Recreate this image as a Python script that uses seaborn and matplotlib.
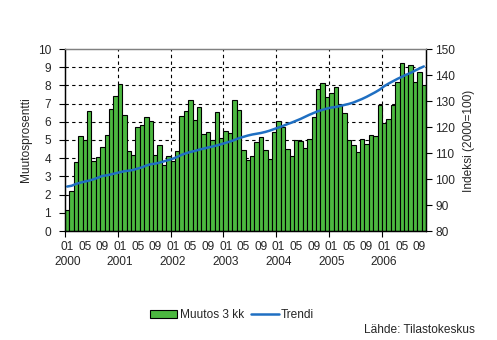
import numpy as np
import pandas as pd
import matplotlib
matplotlib.use("Agg")
import matplotlib.pyplot as plt
import seaborn as sns
from matplotlib.patches import Patch
from matplotlib.lines import Line2D
from matplotlib.transforms import blended_transform_factory

# Monthly series, January 2000 - October 2006
years = [2000, 2001, 2002, 2003, 2004, 2005, 2006]
month_labels = ["01", "05", "09"]

muutos_3kk = [
    1.15, 2.2, 3.8, 5.2, 5.0, 6.6, 3.85, 4.05, 4.6, 5.3, 6.7, 7.4,
    8.07, 6.35, 4.4, 4.17, 5.7, 5.82, 6.26, 6.04, 4.17, 4.72, 3.61, 4.11,
    3.83, 4.39, 6.31, 6.61, 7.19, 6.09, 6.81, 5.32, 5.43, 5.0, 6.55, 5.10,
    5.49, 5.38, 7.19, 6.64, 4.46, 3.91, 4.11, 4.88, 5.16, 4.46, 3.98, 5.43,
    6.06, 5.71, 4.51, 4.11, 4.99, 4.95, 4.55, 5.06, 6.28, 7.82, 8.13, 7.36,
    7.58, 7.91, 6.94, 6.48, 5.01, 4.72, 4.33, 5.05, 4.77, 5.27, 5.21, 6.95,
    5.94, 6.15, 6.94, 8.18, 9.23, 8.64, 9.14, 8.18, 8.73, 8.02,
]

trendi = [
    97.1, 97.4, 98.1, 98.6, 99.0, 99.4, 99.9, 100.5, 101.2, 101.4, 101.8, 102.2,
    102.6, 103.0, 103.2, 103.5, 104.0, 104.5, 105.2, 105.7, 105.9, 106.3, 106.8, 107.3,
    107.8, 108.5, 109.3, 109.9, 110.4, 110.8, 111.3, 111.7, 112.1, 112.5, 112.9, 113.4,
    113.9, 114.4, 115.0, 115.7, 116.2, 116.7, 117.1, 117.4, 117.7, 118.1, 118.6, 119.2,
    119.8, 120.4, 121.1, 121.7, 122.4, 123.1, 123.9, 124.7, 125.4, 126.1, 126.6, 127.1,
    127.5, 127.7, 128.1, 128.5, 128.9, 129.4, 130.1, 130.8, 131.6, 132.5, 133.4, 134.4,
    135.7, 136.7, 137.6, 138.5, 139.3, 140.1, 140.8, 141.7, 142.5, 143.3,
]

GREEN = "#4cb840"
BLUE = "#1f6fc2"
FS = 8.6

sns.set_theme(style="ticks")
plt.rcParams["font.family"] = ["Liberation Sans", "DejaVu Sans"]

n = len(muutos_3kk)
df = pd.DataFrame({"kk": np.arange(n), "muutos": muutos_3kk, "trendi": trendi})

W, H = 497, 340
fig = plt.figure(figsize=(W / 100, H / 100), dpi=100)
ax = fig.add_axes([65 / W, 1 - 231 / H, (426 - 65) / W, 182 / H])

sns.barplot(data=df, x="kk", y="muutos", color=GREEN, saturation=1, width=1.0,
            edgecolor="black", linewidth=0.8, ax=ax)
ax.set_xlim(-0.5, n - 0.5)
ax.set_ylim(0, 10)

# dashed grid behind the bars
for yv in range(1, 10):
    ax.axhline(yv, color="black", lw=0.8, ls=(0, (3, 3)), zorder=0.5)
year_edges = [12 * k - 0.5 for k in range(1, len(years))]
for xv in year_edges:
    ax.axvline(xv, color="black", lw=0.8, ls=(0, (3, 3)), zorder=0.5)

ax2 = ax.twinx()
sns.lineplot(data=df, x="kk", y="trendi", color=BLUE, lw=1.8, ax=ax2)
ax2.set_ylim(80, 150)
ax2.set_xlim(-0.5, n - 0.5)

# x axis: tick marks at year boundaries, month labels under the bars
ax.set_xticks([-0.5] + year_edges)
ax.set_xticklabels([])
lab_pos = [12 * k + m for k in range(len(years)) for m in (0, 4, 8) if 12 * k + m < n]
ax.set_xticks(lab_pos, minor=True)
ax.set_xticklabels([month_labels[(p % 12) // 4] for p in lab_pos], minor=True, fontsize=FS)
ax.tick_params(axis="x", which="major", length=4, width=0.8, color="black", bottom=True)
ax.tick_params(axis="x", which="minor", length=0, pad=7.5, bottom=True)
trans = blended_transform_factory(ax.transData, ax.transAxes)
for k, yr in enumerate(years):
    ax.text(12 * k, -0.172, str(yr), transform=trans, ha="center", va="center", fontsize=FS)

ax.set_yticks(range(0, 11))
ax.tick_params(axis="y", length=4, width=0.8, color="black", pad=6, labelsize=FS, left=True)
ax2.set_yticks(range(80, 151, 10))
ax2.tick_params(axis="y", length=4, width=0.8, color="black", pad=2.5, labelsize=FS, right=True)

ax.set_xlabel("")
ax.set_ylabel("")
ax2.set_xlabel("")
ax2.set_ylabel("")

for a in (ax, ax2):
    for s in ("left", "right", "bottom"):
        a.spines[s].set_color("black")
        a.spines[s].set_linewidth(0.9)
    a.spines["top"].set_color("#808080")
    a.spines["top"].set_linewidth(0.9)
    a.spines["top"].set_visible(True)
    a.spines["right"].set_visible(True)

fig.text(26 / W, 1 - 140 / H, "Muutosprosentti", rotation=90, ha="center", va="center", fontsize=FS)
fig.text(469 / W, 1 - 141 / H, "Indeksi (2000=100)", rotation=90, ha="center", va="center", fontsize=FS)

handles = [Patch(facecolor=GREEN, edgecolor="black", linewidth=0.8),
           Line2D([0], [0], color=BLUE, lw=1.8)]
fig.legend(handles, ["Muutos 3 kk", "Trendi"], loc="center",
           bbox_to_anchor=(232 / W, 1 - 315 / H), ncol=2, frameon=False,
           fontsize=FS, handlelength=2.3, handleheight=0.6, handletextpad=0.2,
           columnspacing=0.6, borderpad=0)
fig.text(475 / W, 1 - 330 / H, "Lähde: Tilastokeskus", ha="right", va="center", fontsize=FS)

fig.savefig("out.png", dpi=100, facecolor="white")
